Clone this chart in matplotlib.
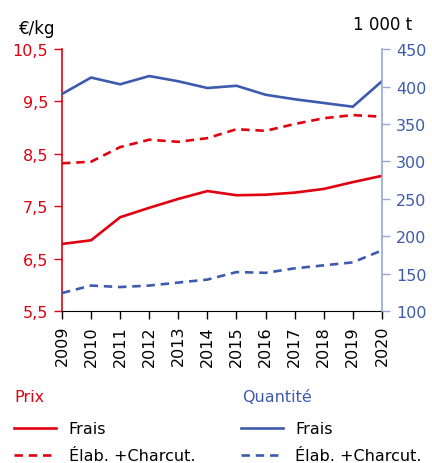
import numpy as np
import matplotlib.pyplot as plt
from matplotlib.lines import Line2D

#=========================================================================================
# data

years = [2009, 2010, 2011, 2012, 2013, 2014, 2015, 2016, 2017, 2018, 2019, 2020]
prix_frais = [6.78, 6.85, 7.29, 7.47, 7.64, 7.79, 7.71, 7.72, 7.76, 7.83, 7.96, 8.08]
prix_elab = [8.32, 8.35, 8.63, 8.77, 8.73, 8.80, 8.97, 8.94, 9.07, 9.18, 9.24, 9.21]
qte_frais = [390, 412, 403, 414, 407, 398, 401, 389, 383, 378, 373, 407]
qte_elab = [124, 134, 132, 134, 138, 142, 152, 151, 157, 161, 165, 181]

left_ticks = [5.5, 6.5, 7.5, 8.5, 9.5, 10.5]
left_labels = ['5,5', '6,5', '7,5', '8,5', '9,5', '10,5']
right_ticks = [100, 150, 200, 250, 300, 350, 400, 450]

#=========================================================================================

red = '#E1000F'
blue = '#3D5BAE'
blue_axis = '#96A6D6'

plt.rcParams['font.family'] = 'DejaVu Sans'

fig = plt.figure(figsize=(4.32, 4.64), dpi=100)
ax = fig.add_axes([0.1435, 0.3276, 0.7405, 0.5644])
ax2 = ax.twinx()

lw = 1.9
ax.plot(years, prix_frais, color=red, lw=lw)
ax.plot(years, prix_elab, color=red, lw=lw, dashes=(3.2, 2.2))
ax2.plot(years, qte_frais, color=blue, lw=lw)
ax2.plot(years, qte_elab, color=blue, lw=lw, dashes=(3.2, 2.2))

ax.set_xlim(2009, 2020)
ax.set_ylim(5.5, 10.5)
ax2.set_ylim(100, 450)

ax.set_xticks(years)
ax.set_xticklabels([str(y) for y in years], rotation=90, fontsize=11.5)
ax.set_yticks(left_ticks)
ax.set_yticklabels(left_labels, fontsize=11.5, color=red)
ax2.set_yticks(right_ticks)
ax2.set_yticklabels([str(t) for t in right_ticks], fontsize=11.5, color=blue)

for a in (ax, ax2):
    a.spines['top'].set_visible(False)
ax.spines['right'].set_visible(False)
ax2.spines['left'].set_visible(False)
ax2.spines['bottom'].set_visible(False)
ax.spines['left'].set_color(red)
ax2.spines['right'].set_color(blue_axis)
ax2.spines['right'].set_linewidth(1.2)
ax.spines['left'].set_linewidth(1.2)
ax.tick_params(axis='y', colors=red, length=6, width=1.0, pad=4)
ax.tick_params(axis='y', labelcolor=red)
ax2.tick_params(axis='y', colors=blue_axis, length=6, width=1.0, pad=4)
ax2.tick_params(axis='y', labelcolor=blue)
ax.tick_params(axis='x', length=6, width=1.0, pad=4)

ax.text(-0.02, 1.045, '€/kg', transform=ax.transAxes, ha='right', va='bottom', fontsize=12)
ax.text(1.094, 1.06, '1 000 t', transform=ax.transAxes, ha='right', va='bottom', fontsize=12)

h1 = [Line2D([], [], color=red, lw=lw), Line2D([], [], color=red, lw=lw, dashes=(3.2, 2.2))]
h2 = [Line2D([], [], color=blue, lw=lw), Line2D([], [], color=blue, lw=lw, dashes=(3.2, 2.2))]
labs = ['Frais', 'Élab. +Charcut.']

fig.text(14 / 432, 1 - 398 / 464, 'Prix', color=red, fontsize=11.5, va='center', ha='left')
fig.text(242 / 432, 1 - 398 / 464, 'Quantité', color=blue, fontsize=11.5, va='center', ha='left')

leg1 = fig.legend(h1, labs, loc='upper left', bbox_to_anchor=(0.0, 0.121),
                  frameon=False, fontsize=11.5, handlelength=2.6, handletextpad=0.8,
                  labelspacing=0.75)
leg2 = fig.legend(h2, labs, loc='upper left', bbox_to_anchor=(0.525, 0.121),
                  frameon=False, fontsize=11.5, handlelength=2.6, handletextpad=0.8,
                  labelspacing=0.75)

plt.savefig('out.png', dpi=100)
plt.close()
